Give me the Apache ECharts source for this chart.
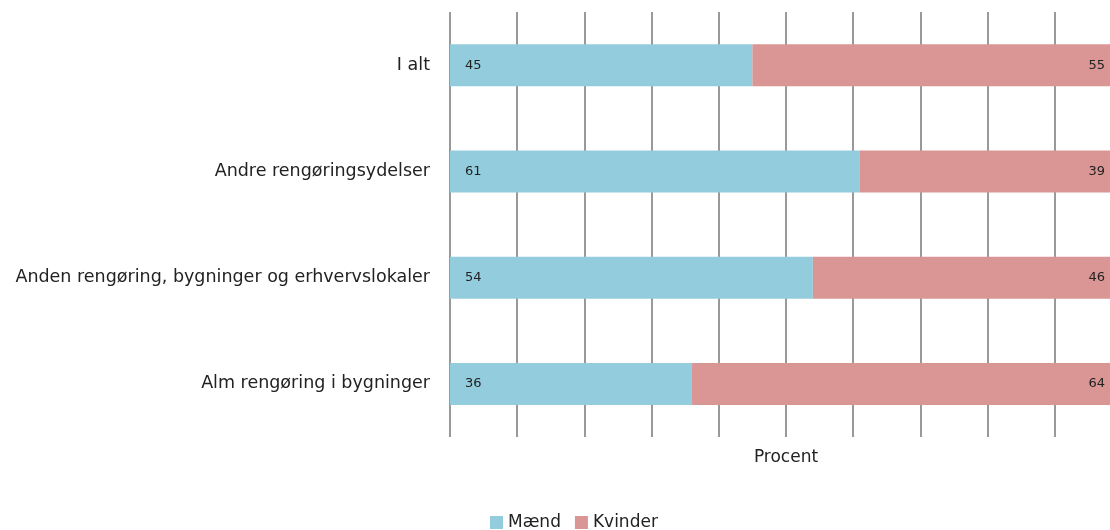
<!DOCTYPE html>
<html>
<head>
    <meta charset="utf-8">
    <title>ECharts</title>
    <script src="https://cdn.jsdelivr.net/npm/echarts@6/dist/echarts.min.js"></script>
    <style>
        html, body { margin: 0; padding: 0; background: #fff; overflow: hidden; }
    </style>
</head>
<body>
    <!-- the plot runs past the right edge of the window, like the original -->
    <div id="main" style="width: 1122px;height:530px;"></div>
    <script type="text/javascript">
        // data
        var categories = ['I alt', 'Andre rengøringsydelser', 'Anden rengøring, bygninger og erhvervslokaler', 'Alm rengøring i bygninger'];
        var maend = [45, 61, 54, 36];
        var kvinder = [55, 39, 46, 64];

        var myChart = echarts.init(document.getElementById('main'));
        var font = '"DejaVu Sans", sans-serif';

        var option = {
            textStyle: { fontFamily: font },
            grid: { left: 450, right: 0, top: 12, bottom: 93, outerBoundsMode: 'none' },
            legend: {
                data: ['Mænd', 'Kvinder'],
                left: 485,
                top: 509,
                icon: 'rect',
                itemWidth: 13,
                itemHeight: 13,
                itemGap: 14,
                textStyle: { fontSize: 17, color: '#222', fontFamily: font }
            },
            xAxis: {
                type: 'value',
                min: 0,
                max: 100,
                interval: 10,
                name: 'Procent',
                nameLocation: 'middle',
                nameGap: 12,
                nameTextStyle: { fontSize: 17, color: '#222', fontFamily: font },
                axisLabel: { show: false },
                axisLine: { show: false },
                axisTick: { show: false },
                splitLine: { show: true, lineStyle: { color: '#999', width: 2 } }
            },
            yAxis: {
                type: 'category',
                inverse: true,
                data: categories,
                axisLine: { show: false },
                axisTick: { show: false },
                axisLabel: { margin: 20, fontSize: 17.5, color: '#222', fontFamily: font }
            },
            series: [{
                name: 'Mænd',
                type: 'bar',
                stack: 'total',
                barWidth: 42,
                data: maend,
                itemStyle: { color: '#93CDDD' },
                label: {
                    show: true,
                    position: 'insideLeft',
                    distance: 15,
                    fontSize: 13,
                    color: '#222',
                    fontFamily: font
                }
            }, {
                name: 'Kvinder',
                type: 'bar',
                stack: 'total',
                barWidth: 42,
                data: kvinder,
                itemStyle: { color: '#D99694' },
                label: {
                    show: true,
                    position: 'insideRight',
                    distance: 5,
                    offset: [-12, 0],
                    fontSize: 13,
                    color: '#222',
                    fontFamily: font
                }
            }]
        };

        myChart.setOption(option);
    </script>
</body>
</html>
